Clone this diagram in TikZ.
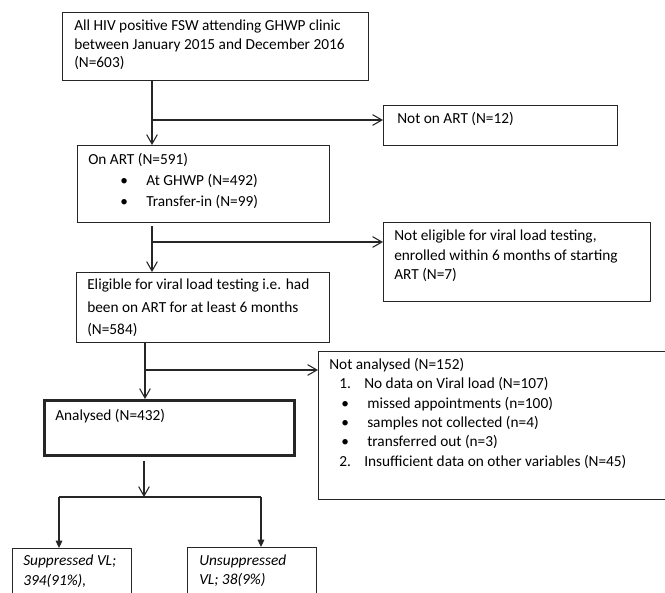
\documentclass[tikz,border=0pt]{standalone}
\usepackage{fontspec}
\setmainfont{Carlito}
\usetikzlibrary{positioning,arrows.meta}
\tikzset{
  box/.style={draw=black!85, line width=0.8pt, anchor=north west, inner sep=0pt},
  mainbox/.style={box, line width=2.4pt},
  txt/.style={anchor=north west, inner sep=0pt, align=left, font=\fontsize{11.5}{14.5}\selectfont},
  arr/.style={draw=black!85, line width=0.8pt, -{Straight Barb[length=7pt,width=8pt]}},
  farr/.style={draw=black!85, line width=0.8pt, -{Triangle[length=5.5pt,width=5pt]}},
  ln/.style={draw=black!85, line width=0.8pt},
  gap/.style={shorten <=2.5pt}
}
\newcommand{\lrow}[3]{\hspace*{#1}\makebox[#2][l]{#3}}

\begin{document}
\begin{tikzpicture}[x=0.75pt, y=-0.75pt]
  \clip (0,0) rectangle (665,593);
  % boxes
  \node[box, minimum width=229.5pt, minimum height=51pt] (all) at (62,12) {};
  \node[box, minimum width=175.5pt, minimum height=30pt] (noart) at (383,105) {};
  \node[box, minimum width=189pt, minimum height=57.75pt] (onart) at (77,145) {};
  \node[box, minimum width=200.25pt, minimum height=59.25pt] (noelig) at (383,222) {};
  \node[box, minimum width=189.75pt, minimum height=52.5pt] (elig) at (76,272) {};
  \node[box, minimum width=270pt, minimum height=111pt] (notan) at (318,351) {};
  \node[mainbox, minimum width=187.5pt, minimum height=41.25pt] (anal) at (43,399) {};
  \node[box, minimum width=89.25pt, minimum height=45pt] (supp) at (12,548) {};
  \node[box, minimum width=96.75pt, minimum height=45pt] (unsupp) at (187,547) {};

  % texts
  \node[txt, font=\fontsize{11.5}{13.9}\selectfont] (allt) at (74,20)
    {All HIV positive FSW attending GHWP clinic\\between January 2015 and December 2016\\(N=603)};
  \node[txt] (noartt) at (397,112.5) {Not on ART (N=12)};
  \node[txt, font=\fontsize{11.5}{15.75}\selectfont] (onartt) at (88,153.5)
    {On ART (N=591)\\
     \lrow{24pt}{19.5pt}{\textbullet}At GHWP (N=492)\\
     \lrow{24pt}{19.5pt}{\textbullet}Transfer-in (N=99)};
  \node[txt] (noeligt) at (394,230)
    {Not eligible for viral load testing,\\enrolled within 6 months of starting\\ART (N=7)};
  \node[txt, font=\fontsize{11.5}{16.7}\selectfont] (eligt) at (87,279)
    {Eligible for viral load testing i.e. had\\been on ART for at least 6 months\\(N=584)};
  \node[txt] (notant) at (329,358)
    {Not analysed (N=152)\\
     \lrow{7.5pt}{18.75pt}{1.}No data on Viral load (N=107)\\
     \lrow{9.1pt}{19.4pt}{\textbullet}missed appointments (n=100)\\
     \lrow{9.1pt}{19.4pt}{\textbullet}samples not collected (n=4)\\
     \lrow{9.1pt}{19.4pt}{\textbullet}transferred out (n=3)\\
     \lrow{7.5pt}{18.75pt}{2.}Insufficient data on other variables (N=45)};
  \node[txt] (analt) at (55,408.7) {Analysed (N=432)};
  \node[txt, font=\fontsize{11.5}{14.5}\selectfont\itshape] (suppt) at (23,555)
    {Suppressed VL;\\394(91\%),};
  \node[txt, font=\fontsize{11.5}{14.5}\selectfont\itshape] (unsuppt) at (199,554.7)
    {Unsuppressed\\VL; 38(9\%)};

  % split points
  \coordinate (s1) at (152,120);
  \coordinate (s2) at (152,242);
  \coordinate (s3) at (145,370);
  \coordinate (s4) at (144,497);
  \coordinate (lft) at (59,497);
  \coordinate (rgt) at (261,497);

  % connectors
  \draw[arr] (all.south -| s1) -- (onart.north -| s1);
  \draw[arr] (s1) -- (s1 -| noart.west);
  \draw[arr, gap] (onart.south -| s2) -- (elig.north -| s2);
  \draw[arr] (s2) -- (s2 -| noelig.west);
  \draw[arr] (elig.south -| s3) -- (anal.north -| s3);
  \draw[arr] (s3) -- (s3 -| notan.west);
  \draw[arr, gap] (anal.south -| s4) -- (s4);
  \draw[ln] (lft) -- (rgt);
  \draw[farr] (lft) -- (lft |- supp.north);
  \draw[farr] (rgt) -- (rgt |- unsupp.north);
\end{tikzpicture}
\end{document}
